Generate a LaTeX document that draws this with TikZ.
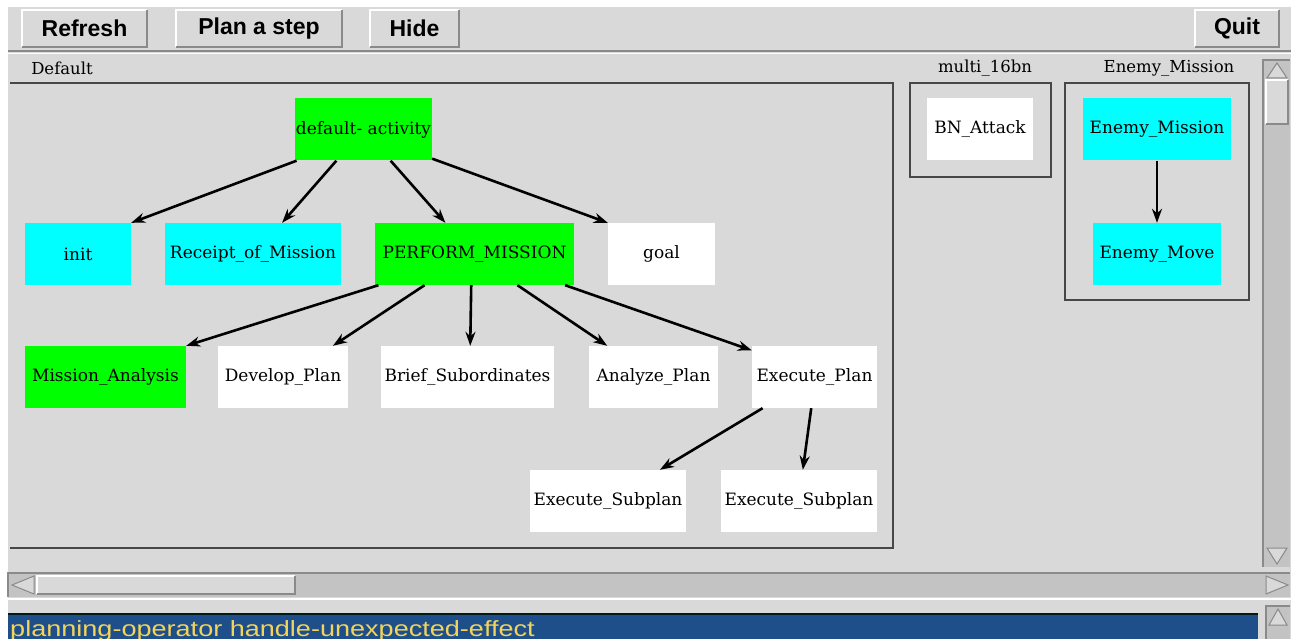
\documentclass[tikz,border=0pt]{standalone}
\usepackage{fontspec}
\newfontfamily\uifont{Liberation Sans}
\newfontfamily\graphfont{DejaVu Serif}
\usetikzlibrary{arrows.meta,positioning}
\definecolor{panelgray}{HTML}{D9D9D9}
\definecolor{troughgray}{HTML}{C3C3C3}
\definecolor{edgegray}{HTML}{8A8A8A}
\definecolor{nodegreen}{HTML}{00FF00}
\definecolor{nodecyan}{HTML}{00FFFF}
\definecolor{statusblue}{HTML}{1E4F8B}
\definecolor{statusyellow}{HTML}{F2D35B}
\tikzset{
  plannode/.style = {rectangle, inner xsep=0pt, minimum height=62pt,
    font=\graphfont\fontsize{17}{19}\selectfont, text=black},
  pn_g/.style = {plannode, fill=nodegreen},% activite verte
  pn_c/.style = {plannode, fill=nodecyan},% activite cyan
  pn_w/.style = {plannode, fill=white},% activite blanche
  uibutton/.style = {rectangle, fill=panelgray, minimum height=37pt, inner sep=0pt,
    font=\uifont\bfseries\fontsize{23}{25}\selectfont},
  framebox/.style = {draw=black!72, line width=1.6pt},
  framelabel/.style = {font=\graphfont\fontsize{16.5}{18}\selectfont, inner sep=0pt},
  planedge/.style = {-{Stealth[length=14pt,width=10pt]}, line width=2.6pt}
}
% relief des boutons
\newcommand\bevel[1]{%
  \draw[white, line width=1.5pt] (#1.south west) |- (#1.north east);
  \draw[edgegray, line width=1.5pt] (#1.south west) -| (#1.north east);}
\begin{document}
\begin{tikzpicture}[x=1pt,y=-1pt]
\useasboundingbox (0,0) rectangle (1291,639);
\fill[white] (0,0) rectangle (1291,639);
\fill[panelgray] (8,7) rectangle (1291,639);

% barre de boutons
\node[uibutton, minimum width=125pt] (refresh) at (84.5,28.5) {Refresh};
\node[uibutton, minimum width=166pt] (plan) at (259,28.5) {Plan a step};
\node[uibutton, minimum width=89pt] (hide) at (414.5,28.5) {Hide};
\node[uibutton, minimum width=84pt] (quit) at (1237,28.5) {Quit};
\bevel{refresh} \bevel{plan} \bevel{hide} \bevel{quit}
\draw[edgegray, line width=2pt] (8,51) -- (1291,51);
\draw[white, line width=1.2pt] (8,53.5) -- (1291,53.5);

% cadres
\node[framelabel] (lbl_def) at (62,68) {Default};
\node[framelabel] (lbl_multi) at (985,68) {multi\_16bn};
\node[framelabel] (lbl_enemy) at (1169,68) {Enemy\_Mission};
\draw[framebox] (10,83) -- (893,83) -- (893,548) -- (10,548);
\draw[framebox] (910,83) rectangle (1051,177);
\draw[framebox] (1065,83) rectangle (1249,300);

% graphe du plan
\node[pn_g, minimum width=137pt] (da) at (363.5,129.5) {default- activity};
\node[pn_c, minimum width=106pt] (init) at (78,254) {init};
\node[pn_c, minimum width=176pt] (rom) at (253,254) {Receipt\_of\_Mission};
\node[pn_g, minimum width=199pt] (pm) at (474.5,254) {PERFORM\_MISSION};
\node[pn_w, minimum width=107pt] (goal) at (661.5,254) {goal};
\node[pn_g, minimum width=161pt] (ma) at (105.5,377) {Mission\_Analysis};
\node[pn_w, minimum width=130pt] (dp) at (283,377) {Develop\_Plan};
\node[pn_w, minimum width=173pt] (bs) at (467.5,377) {Brief\_Subordinates};
\node[pn_w, minimum width=129pt] (ap) at (653.5,377) {Analyze\_Plan};
\node[pn_w, minimum width=125pt] (ep) at (814.5,377) {Execute\_Plan};
\node[pn_w, minimum width=156pt] (es1) at (608,501) {Execute\_Subplan};
\node[pn_w, minimum width=156pt] (es2) at (799,501) {Execute\_Subplan};
\node[pn_w, minimum width=106pt] (bna) at (980,129.5) {BN\_Attack};
\node[pn_c, minimum width=148pt] (emi) at (1157,129.5) {Enemy\_Mission};
\node[pn_c, minimum width=128pt] (emv) at (1157,254) {Enemy\_Move};

\draw[planedge] (da.205.6) -- (init.north east);
\draw[planedge] (da.229) -- (rom.47);
\draw[planedge] (da.311) -- (pm.133);
\draw[planedge] (da.337) -- (goal.north west);
\draw[planedge] (pm.198) -- (ma.north east);
\draw[planedge] (pm.212) -- (dp.32);
\draw[planedge] (pm.264) -- (bs.85);
\draw[planedge] (pm.324.5) -- (ap.146);
\draw[planedge] (pm.341) -- (ep.157);
\draw[planedge] (ep.211) -- (es1.31);
\draw[planedge] (ep.264) -- (es2.83);
\draw[planedge] (emi) -- (emv);

% barres de defilement
\fill[troughgray] (1263,60) rectangle (1290,567);
\draw[edgegray, line width=1.5pt] (1263,567) -- (1263,60) -- (1290,60);
\draw[edgegray, line width=1pt, fill=panelgray] (1277,63) -- (1267,78) -- (1287,78) -- cycle;
\fill[panelgray] (1266,80) rectangle (1288,124);
\draw[white, line width=1.2pt] (1266,124) -- (1266,80) -- (1288,80);
\draw[edgegray, line width=1.2pt] (1266,124) -- (1288,124) -- (1288,80);
\draw[edgegray, line width=1pt, fill=panelgray] (1267,548) -- (1287,548) -- (1277,564) -- cycle;

\fill[troughgray] (8,573) rectangle (1290,597);
\draw[edgegray, line width=1.5pt] (8,597) -- (8,573) -- (1290,573);
\draw[edgegray, line width=1pt, fill=panelgray] (12,585) -- (34,576) -- (34,594) -- cycle;
\fill[panelgray] (37,576) rectangle (295,594);
\draw[white, line width=1.2pt] (37,594) -- (37,576) -- (295,576);
\draw[edgegray, line width=1.2pt] (37,594) -- (295,594) -- (295,576);
\draw[edgegray, line width=1pt, fill=panelgray] (1266,576) -- (1266,594) -- (1288,585) -- cycle;
\draw[white, line width=1.5pt] (8,599) -- (1291,599);

% ligne d'etat
\fill[statusblue] (8,614) rectangle (1258,639);
\draw[black!80!teal, line width=1.5pt] (8,614) -- (1258,614);
\node[anchor=base west, inner sep=0pt, text=statusyellow, xscale=1.23,
  font=\uifont\fontsize{22}{24}\selectfont] (status) at (10,636)
  {planning-operator handle-unexpected-effect};
\fill[troughgray] (1266,606) rectangle (1290,639);
\draw[edgegray, line width=1.2pt] (1266,639) -- (1266,606) -- (1290,606);
\draw[edgegray, line width=1pt, fill=panelgray] (1278,609) -- (1269,625) -- (1287,625) -- cycle;
\end{tikzpicture}
\end{document}
